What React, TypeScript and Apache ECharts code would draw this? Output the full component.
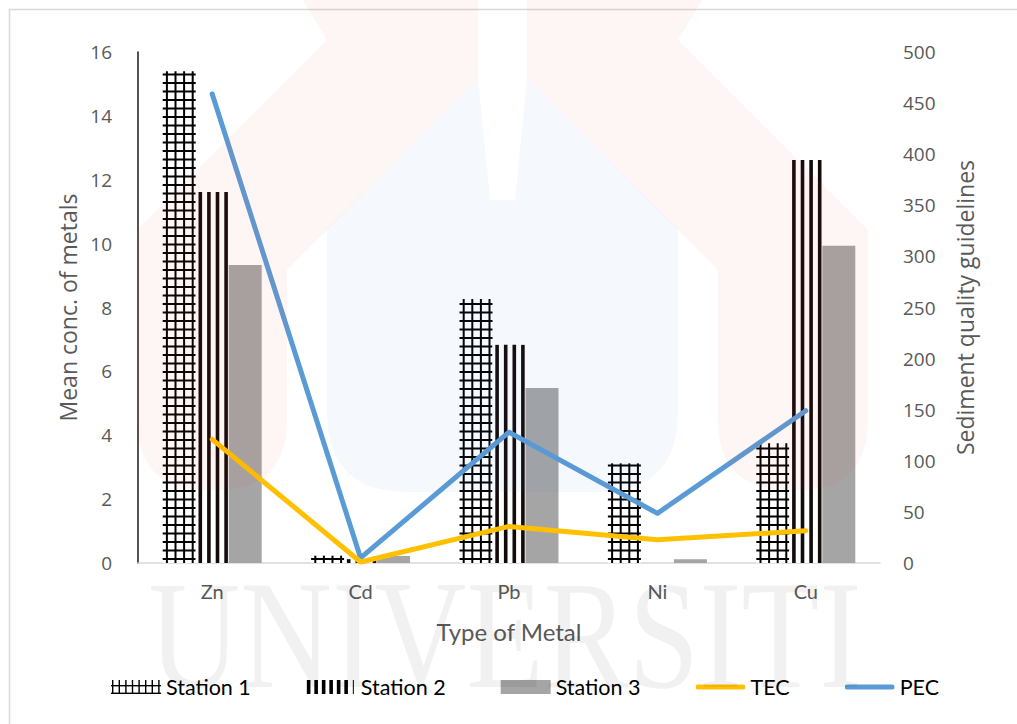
import React, { useEffect, useRef } from "react";
import * as echarts from "echarts";

const categories = ["Zn", "Cd", "Pb", "Ni", "Cu"];
const station1 = [15.4, 0.23, 8.27, 3.12, 3.75];
const station2 = [11.62, 0.12, 6.83, 0, 12.62];
const station3 = [9.33, 0.22, 5.48, 0.12, 9.93];
const tec = [121, 0.99, 35.8, 22.7, 31.6];
const pec = [459, 4.98, 128, 48.6, 149];
const leftTicks = { min: 0, max: 16, interval: 2 };
const rightTicks = { min: 0, max: 500, interval: 50 };

const BAR_RATIO = 33 / 148.4;
const UI_FONT = "'Open Sans', 'Noto Sans', sans-serif";
const CAL_FONT = "Lato, 'Open Sans', sans-serif";

function svgIcon(svg: string) {
  return "image://data:image/svg+xml;charset=utf-8," + encodeURIComponent(svg);
}

const gridIcon = svgIcon(
  `<svg xmlns="http://www.w3.org/2000/svg" width="50" height="14" viewBox="0 0 50 14">` +
    [0, 1, 2, 3, 4, 5, 6, 7]
      .map((k) => `<rect x="${1 + k * 6.6}" y="0" width="1.4" height="14" fill="#000"/>`)
      .join("") +
    `<rect x="0" y="5" width="50" height="1.4" fill="#000"/>` +
    `<rect x="0" y="12.6" width="50" height="1.4" fill="#000"/>` +
    `</svg>`
);
const stripeIcon = svgIcon(
  `<svg xmlns="http://www.w3.org/2000/svg" width="50" height="14" viewBox="0 0 50 14">` +
    [0, 1, 2, 3, 4, 5]
      .map((k) => `<rect x="${1 + k * 7.5}" y="0" width="3.6" height="14" fill="#000"/>`)
      .join("") +
    `<rect x="47" y="0" width="1" height="14" fill="#000"/>` +
    `</svg>`
);
function lineIcon(color: string) {
  return svgIcon(
    `<svg xmlns="http://www.w3.org/2000/svg" width="50" height="14" viewBox="0 0 50 14">` +
      `<line x1="2.5" y1="7" x2="47.5" y2="7" stroke="${color}" stroke-width="5" stroke-linecap="round"/>` +
      `</svg>`
  );
}

function makeRender(slot: number, kind: "grid" | "stripe" | "solid") {
  return (params: any, api: any) => {
    const ci = api.value(0);
    const v = api.value(1);
    const p0 = api.coord([ci, 0]);
    const p1 = api.coord([ci, v]);
    const band = api.size([1, 0])[0];
    const w = band * BAR_RATIO;
    const x0 = p0[0] + (slot - 1) * w - w / 2;
    const yb = p0[1];
    const yt = p1[1];
    const h = yb - yt;
    const children: any[] = [];
    if (h <= 0) return { type: "group", children };
    if (kind === "solid") {
      children.push({ type: "rect", shape: { x: x0, y: yt, width: w, height: h }, style: { fill: "#A5A5A5" } });
    } else {
      children.push({ type: "rect", shape: { x: x0, y: yt, width: w, height: h }, style: { fill: "#ffffff" } });
      for (let k = 0; k < 4; k++) {
        const lx = x0 + 3.2 + k * 8.6;
        if (kind === "stripe") {
          children.push({ type: "rect", shape: { x: lx - 0.4, y: yt, width: 3.6, height: h }, style: { fill: "#140a0a" } });
        } else {
          children.push({ type: "rect", shape: { x: lx, y: yt, width: 2, height: h }, style: { fill: "#000" } });
        }
      }
      if (kind === "grid") {
        for (let y = yb - 4; y > yt; y -= 8.5) {
          children.push({ type: "rect", shape: { x: x0, y: y - 1, width: w, height: 2 }, style: { fill: "#000" } });
        }
      }
    }
    return { type: "group", children };
  };
}

function roundedPoly(pts: number[][], cornerIdx: number[], r: number) {
  const out: number[][] = [];
  const n = pts.length;
  for (let i = 0; i < n; i++) {
    const p = pts[i];
    if (cornerIdx.indexOf(i) < 0) {
      out.push(p);
      continue;
    }
    const a = pts[(i - 1 + n) % n];
    const b = pts[(i + 1) % n];
    const da = [a[0] - p[0], a[1] - p[1]];
    const db = [b[0] - p[0], b[1] - p[1]];
    const la = Math.hypot(da[0], da[1]);
    const lb = Math.hypot(db[0], db[1]);
    const s = [p[0] + (da[0] / la) * r, p[1] + (da[1] / la) * r];
    const e = [p[0] + (db[0] / lb) * r, p[1] + (db[1] / lb) * r];
    for (let t = 0; t <= 10; t++) {
      const u = t / 10;
      const x = (1 - u) * (1 - u) * s[0] + 2 * (1 - u) * u * p[0] + u * u * e[0];
      const y = (1 - u) * (1 - u) * s[1] + 2 * (1 - u) * u * p[1] + u * u * e[1];
      out.push([x, y]);
    }
  }
  return out;
}

const RED = "rgba(232, 50, 50, 0.05)";
const BLUE = "rgba(60, 120, 190, 0.05)";

const leftRed = roundedPoly(
  [
    [303, 0],
    [478, 0],
    [478, 78],
    [287, 270],
    [287, 490],
    [137, 490],
    [137, 230],
    [327, 40],
  ],
  [4, 5],
  70
);
const rightRed = leftRed.map((p) => [1005 - p[0], p[1]]);
const blueU = roundedPoly(
  [
    [327, 229],
    [478, 78],
    [490, 200],
    [515, 200],
    [527, 78],
    [678, 229],
    [678, 492],
    [327, 492],
  ],
  [6, 7],
  80
);

export default function App() {
  const ref = useRef<HTMLDivElement>(null);
  useEffect(() => {
    document.body.style.margin = "0";
    document.body.style.overflow = "hidden";
    const chart = echarts.init(ref.current!, undefined, { renderer: "svg" });
    const barData = (arr: number[]) => arr.map((v, i) => [i, v]);
    const option: any = {
      animation: false,
      backgroundColor: "#ffffff",
      grid: { left: 138, right: 137, top: 52, bottom: 161, containLabel: false },
      legend: {
        left: 106,
        top: 671,
        itemWidth: 50,
        itemHeight: 14,
        itemGap: 55,
        textStyle: { fontFamily: CAL_FONT, fontSize: 21.5, color: "#000" },
        data: [
          { name: "Station 1", icon: gridIcon },
          { name: "Station 2", icon: stripeIcon },
          { name: "Station 3", icon: "rect" },
          { name: "TEC", icon: lineIcon("#FFC000") },
          { name: "PEC", icon: lineIcon("#5B9BD5") },
        ],
      },
      xAxis: {
        type: "category",
        data: categories,
        name: "Type of Metal",
        nameLocation: "middle",
        nameGap: 56,
        nameTextStyle: { fontFamily: CAL_FONT, fontSize: 24, color: "#595959" },
        axisLine: { lineStyle: { color: "#d9d9d9", width: 1.5 } },
        axisTick: { show: false },
        axisLabel: { fontFamily: CAL_FONT, fontSize: 20, color: "#595959", margin: 18 },
      },
      yAxis: [
        {
          type: "value",
          ...leftTicks,
          name: "Mean conc. of metals",
          nameLocation: "middle",
          nameRotate: 90,
          nameGap: 57,
          nameTextStyle: { fontFamily: UI_FONT, fontSize: 23, color: "#595959" },
          axisLine: { show: true, lineStyle: { color: "#1a1a1a", width: 1.5 } },
          axisTick: { show: false },
          splitLine: { show: false },
          axisLabel: { fontFamily: UI_FONT, fontSize: 19, color: "#595959", margin: 26 },
        },
        {
          type: "value",
          ...rightTicks,
          name: "Sediment quality guidelines",
          nameLocation: "middle",
          nameRotate: 90,
          nameGap: 73,
          nameTextStyle: { fontFamily: UI_FONT, fontSize: 23, color: "#595959" },
          axisLine: { show: false },
          axisTick: { show: false },
          splitLine: { show: false },
          axisLabel: { fontFamily: UI_FONT, fontSize: 19, color: "#595959", margin: 23 },
        },
      ],
      series: [
        {
          name: "Station 1",
          type: "custom",
          renderItem: makeRender(0, "grid"),
          data: barData(station1),
          encode: { x: 0, y: 1 },
          itemStyle: { color: "#000" },
          z: 2,
        },
        {
          name: "Station 2",
          type: "custom",
          renderItem: makeRender(1, "stripe"),
          data: barData(station2),
          encode: { x: 0, y: 1 },
          itemStyle: { color: "#000" },
          z: 2,
        },
        {
          name: "Station 3",
          type: "custom",
          renderItem: makeRender(2, "solid"),
          data: barData(station3),
          encode: { x: 0, y: 1 },
          itemStyle: { color: "#A5A5A5" },
          z: 2,
        },
        {
          name: "PEC",
          type: "line",
          yAxisIndex: 1,
          data: pec,
          symbol: "none",
          showSymbol: false,
          color: "#5B9BD5",
          lineStyle: { color: "#5B9BD5", width: 5, cap: "round", join: "round" },
          z: 3,
        },
        {
          name: "TEC",
          type: "line",
          yAxisIndex: 1,
          data: tec,
          symbol: "none",
          showSymbol: false,
          color: "#FFC000",
          lineStyle: { color: "#FFC000", width: 5, cap: "round", join: "round" },
          z: 4,
        },
      ],
      graphic: [
        {
          type: "rect",
          silent: true,
          z: 0,
          shape: { x: 9.5, y: 9.5, width: 1020, height: 730 },
          style: { fill: "none", stroke: "#d9d9d9", lineWidth: 1.5 },
        },
        { type: "polygon", silent: true, z: 100, shape: { points: leftRed }, style: { fill: RED } },
        { type: "polygon", silent: true, z: 100, shape: { points: rightRed }, style: { fill: RED } },
        { type: "polygon", silent: true, z: 100, shape: { points: blueU }, style: { fill: BLUE } },
        {
          type: "text",
          silent: true,
          z: 100,
          x: 505,
          y: 713,
          scaleX: 0.82,
          style: {
            text: "UNIVERSITI",
            fontFamily: "'Liberation Serif', 'DejaVu Serif', serif",
            fontSize: 155,
            fill: "rgba(0,0,0,0.055)",
            textAlign: "center",
            textVerticalAlign: "bottom",
          },
        },
      ],
    };
    chart.setOption(option);
    return () => chart.dispose();
  }, []);
  return <div ref={ref} style={{ width: 1017, height: 724 }} />;
}
